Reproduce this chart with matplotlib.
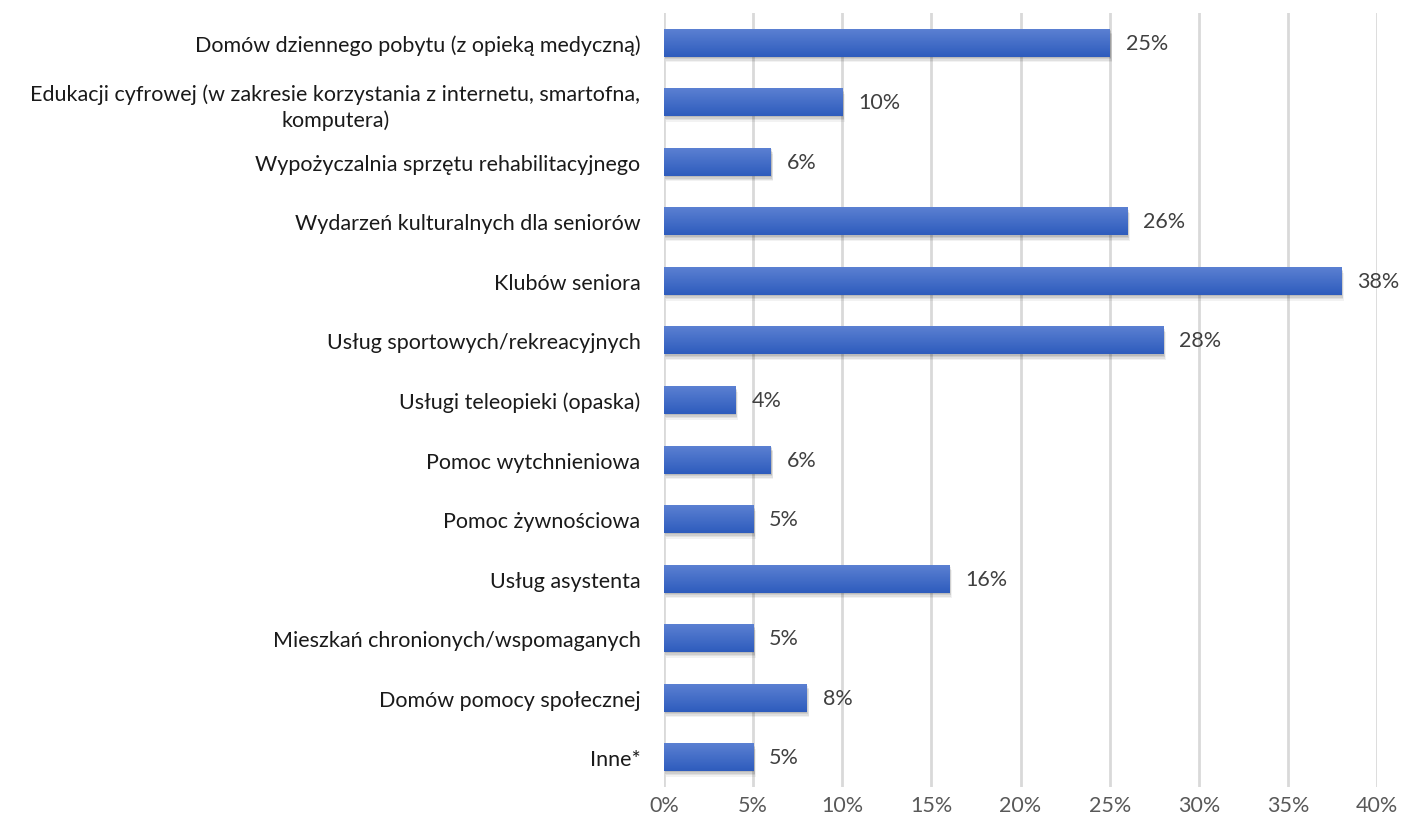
import numpy as np
import matplotlib
matplotlib.use("Agg")
from matplotlib import pyplot as plt
from matplotlib.patches import Rectangle

plt.rcParams['font.family'] = ['Lato', 'DejaVu Sans']

categories = [
    "Domów dziennego pobytu (z opieką medyczną)",
    "Edukacji cyfrowej (w zakresie korzystania z internetu, smartofna,\nkomputera)",
    "Wypożyczalnia sprzętu rehabilitacyjnego",
    "Wydarzeń kulturalnych dla seniorów",
    "Klubów seniora",
    "Usług sportowych/rekreacyjnych",
    "Usługi teleopieki (opaska)",
    "Pomoc wytchnieniowa",
    "Pomoc żywnościowa",
    "Usług asystenta",
    "Mieszkań chronionych/wspomaganych",
    "Domów pomocy społecznej",
    "Inne*",
]
values = [25, 10, 6, 26, 38, 28, 4, 6, 5, 16, 5, 8, 5]
xticks = [0, 5, 10, 15, 20, 25, 30, 35, 40]

fig = plt.figure(figsize=(14.04, 8.28), dpi=100)
ax = fig.add_axes([664 / 1404, 40 / 828, 713 / 1404, 774 / 828])

y = np.arange(len(categories))
bar_h = 0.47
fs = 15.5

# gradient for bars: lighter top, darker bottom
grad = np.linspace(0, 1, 64).reshape(-1, 1)
top_c = np.array([0x5b, 0x80, 0xd2]) / 255
bot_c = np.array([0x2e, 0x5c, 0xbd]) / 255
img = top_c + (bot_c - top_c) * grad[..., None]
img = img.reshape(64, 1, 3)

for yi, v in zip(y, values):
    # soft shadow below/right of the bar
    for k, a in enumerate([0.09, 0.08, 0.07, 0.05]):
        off = 0.02 + 0.025 * k
        ax.add_patch(Rectangle((0.05 + 0.03 * k, yi - bar_h / 2 + off), v, bar_h,
                               facecolor='black', alpha=a, edgecolor='none', zorder=2))
    bar = ax.barh(yi, v, height=bar_h, color='#4472c4', zorder=3)[0]
    im = ax.imshow(img, extent=(0, v, yi + bar_h / 2, yi - bar_h / 2),
                   aspect='auto', zorder=4, interpolation='bilinear')
    im.set_clip_path(bar)
    ax.text(v + 0.9, yi, f"{v}%", va='center', ha='left', fontsize=fs,
            color='#404040', zorder=5)

ax.set_xlim(0, 40)
ax.set_ylim(len(categories) - 0.5, -0.5)
ax.set_xticks(xticks)
ax.set_xticklabels([f"{t}%" for t in xticks], fontsize=fs, color='#595959')
ax.set_yticks(y)
ax.set_yticklabels(categories, fontsize=fs, color='#1a1a1a', ha='right',
                   multialignment='center', linespacing=1.3)
ax.tick_params(axis='y', length=0, pad=17)
ax.tick_params(axis='x', length=0, pad=6)
ax.grid(axis='x', color='#d9d9d9', linewidth=2, zorder=0)
ax.set_axisbelow(True)
for s in ax.spines.values():
    s.set_visible(False)

fig.savefig("out.png", dpi=100)
